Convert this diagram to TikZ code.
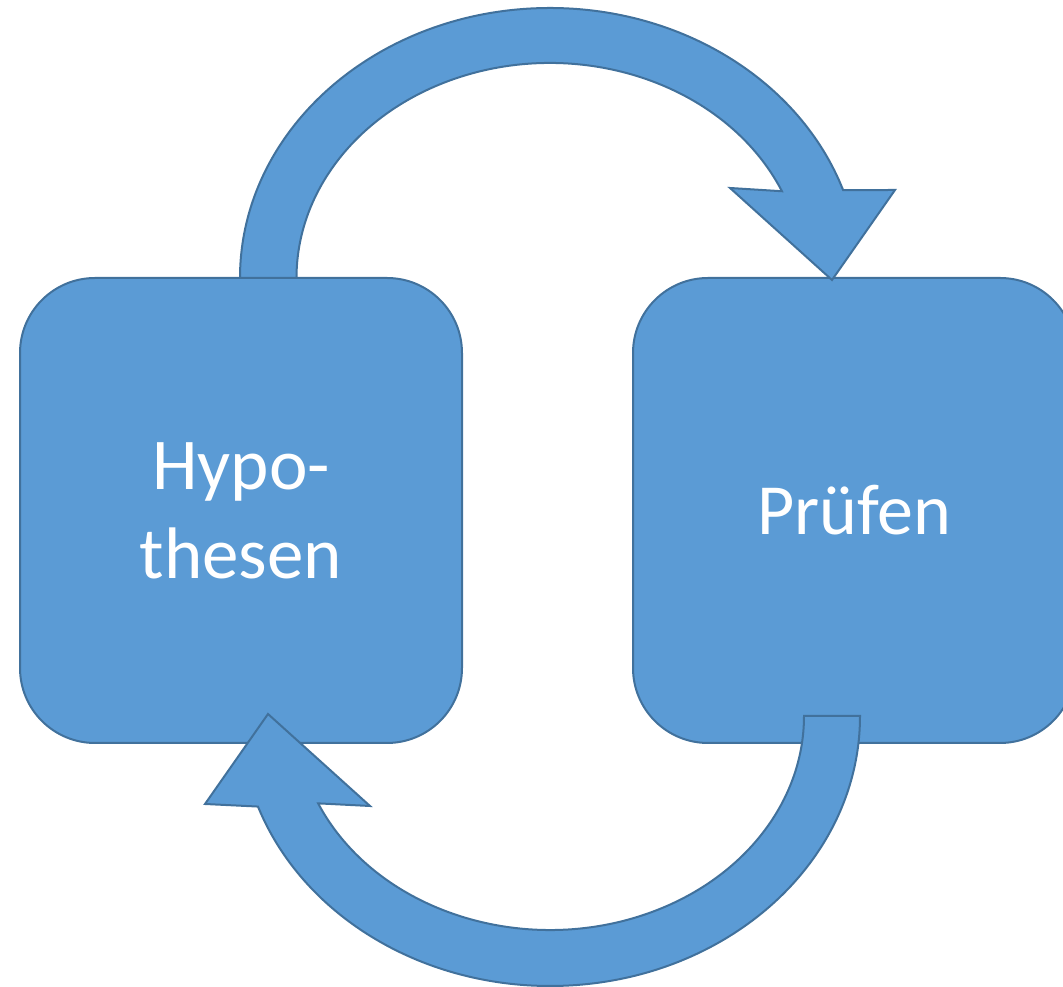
\documentclass[tikz,border=0pt]{standalone}
\usepackage{fontspec}
\setmainfont{Carlito}
\definecolor{boxfill}{HTML}{5B9BD5}
\definecolor{boxline}{HTML}{41719C}
\tikzset{
  box/.style={draw=boxline, fill=boxfill, line width=2pt, rounded corners=75pt,
    minimum width=442pt, minimum height=465pt, text=white, align=center,
    inner sep=0pt},
  blockarrow/.style={draw=boxline, fill=boxfill, line width=2pt, line join=miter}
}
\begin{document}
\begin{tikzpicture}[x=1pt,y=1pt]
\useasboundingbox (0,0) rectangle (1063,987);
\clip (0,0) rectangle (1063,987);
% boxes
\node[box, font=\fontsize{73}{89}\selectfont] (hyp) at (241,476.5) {Hypo-\\thesen};
\node[box, font=\fontsize{72}{88}\selectfont] (pruef) at (854,476.5) {Prüfen};
% top arrow (Hypothesen -> Prüfen)
\draw[blockarrow] (240,709)
  arc[start angle=180, end angle=19, x radius=310, y radius=270]
  -- (895,797) -- (832,707) -- (730,799)
  -- ({550+253.5*cos(23.8)},{709+215*sin(23.8)})
  arc[start angle=23.8, end angle=180, x radius=253.5, y radius=215]
  -- cycle;
% bottom arrow (Prüfen -> Hypothesen)
\draw[blockarrow] (860,271)
  arc[start angle=0, end angle=-160.4, x radius=310, y radius=270]
  -- (205,183) -- (268,273) -- (370,181)
  -- ({550+254*cos(-155.9)},{271+214*sin(-155.9)})
  arc[start angle=-155.9, end angle=0, x radius=254, y radius=214]
  -- cycle;
\end{tikzpicture}
\end{document}
